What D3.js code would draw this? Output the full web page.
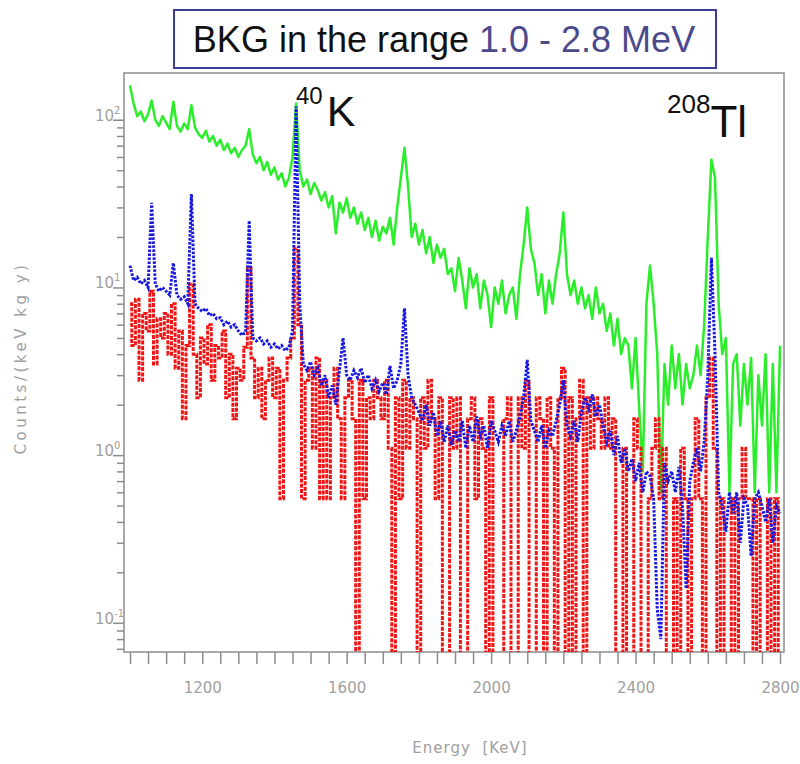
<!DOCTYPE html>
<html><head><meta charset="utf-8">
<script src="https://cdn.jsdelivr.net/npm/d3@7"></script>
<style>body{margin:0;background:#fff}</style>
</head><body>
<svg id="c" width="800" height="764"></svg>
<script>
// ---- data (counts/(keV kg y)), 10 keV bins starting at 1000 keV ----
const energyStart = 1000, energyEnd = 2800, energyStep = 10;
const green = [
160,125,105,112,98,108,130,100,92,105,
96,88,128,92,85,95,88,122,90,82,
78,86,74,80,70,76,66,72,63,68,
60,66,70,88,62,55,60,50,56,47,
52,44,48,40,45,60,125,50,40,44,
36,42,38,33,37,30,35,21,32,28,
34,26,30,24,28,22,26,20,25,19,
23,21,26,18,30,45,68,40,20,24,
18,22,16,20,14,18,15,17,12,13,
9.5,15,11,7.5,13,10,12,7.5,11,9,
5.8,10,8,11,7,9,10,6.5,12,18,
30,17,14,9,12,7,11,8,12,16,
28,12,9,11,8,10,7.5,9,6.5,10,
7,8,5.5,7,4.5,6.5,4,5,4.5,2.5,
5,1.9,0.8,8,13.5,8,4,0.6,3.5,2,
4.5,2.5,4,2,3.5,2.5,3,4.5,3,6,
20,58,45,8,4,5,0.6,3.5,4,1.5,
3.5,2,3.8,0.6,3,1.5,4,0.6,3.5,0.6,
4.5];
const blue = [
13.5,11,11.5,10.5,11,10,32,10.5,9.5,10,
9.5,9,14,9,8.5,8.8,8,36,8,7.5,
7.2,7.5,6.8,7,6.5,6.6,6,6.3,5.8,6,
5.5,5.2,5.4,25,5,4.8,5,4.6,4.8,4.4,
4.6,4.3,4.5,4.2,4.4,5.5,120,8,3.5,3.2,
3.6,3,3.3,2.6,3,2.2,2.6,2,3.2,5,
3,2.8,3.2,2.9,3.3,2.7,3,2.5,2.8,2.4,
2.7,2.3,3.4,2.5,2.8,3.5,7.5,3,2.2,2,
1.8,1.6,2,1.5,1.8,1.3,1.6,1.2,1.5,1.15,
1.4,1.2,1.6,1.1,1.5,1.2,1.7,1.3,1.5,1.1,
1.6,1.4,1.2,1.5,1.3,1.6,1.2,1.4,1.7,2.2,
3.7,1.6,1.4,1.2,1.5,1.1,1.4,1.3,1.6,2,
2.8,1.5,1.3,1.6,1.2,1.8,2.2,1.9,2.3,1.7,
2,1.5,1.2,1.4,1,1.3,0.9,1.1,0.8,0.95,
0.7,0.9,0.6,0.8,0.75,0.55,0.12,0.08,0.9,0.7,
0.8,0.6,0.85,0.5,0.16,0.7,0.9,1.1,0.8,1.2,
3,15,4,0.6,0.5,0.35,0.6,0.45,0.6,0.3,
0.55,0.5,0.25,0.55,0.6,0.5,0.4,0.55,0.3,0.5,
0.45];
const red = [
8,4.5,8.5,2.8,7,5.5,9.5,3.5,6.5,5,
7,4,8,3.3,5.5,1.65,4.5,10.5,4,2.2,
5,3.5,6,2.8,4.5,3.8,5.5,2.2,4,1.65,
3.3,2.8,4.4,13,3.8,2.2,3.3,1.65,2.8,3.8,
2.2,3.3,0.55,2.8,3.8,5,17,6,0.55,2.8,
3.3,1.1,3.8,0.55,2.8,0.55,2.2,3.3,1.65,0.55,
2.2,2.8,1.65,0,2.8,0.55,2.2,1.65,2.8,2.2,
1.65,2.8,1.1,0,2.2,0.55,2.8,1.1,2.2,1.65,
0,2.2,1.1,2.8,1.65,0.55,2.2,0,0,2.2,
1.1,2.2,0,0,1.65,2.2,0.55,1.65,1.1,0,
2.2,0,0,0,1.65,2.2,0,0,2.2,1.1,
2.8,0,0,2.2,1.65,0,2.2,1.1,0,2.2,
3.3,0,2.2,0,1.65,2.8,0,2.2,1.1,2.2,
1.65,1.1,2.2,1.1,1.65,0,0,1.1,0,0,
1.65,1.1,0,0,0.55,1.1,1.65,0.55,1.1,0,
0,0.55,0,1.1,0.55,0,0.55,1.65,0.55,0,
2.2,3.8,1.1,0,0.55,0,0,0.55,0,0.55,
1.1,0.55,0.55,0,0.55,0,0,0.55,0,0.55,
0];
const xTickLabels = [1200,1600,2000,2400,2800];
const yDecades = [0.1,1,10,100];
const yExponents = ["-1","0","1","2"];
const titleBlack = "BKG in the range ";
const titleBlue = "1.0 - 2.8 MeV";

// ---- layout ----
const svg = d3.select("#c");
const L = 124, R = 784, T = 73, B = 652;
const energies = d3.range(energyStart, energyEnd + 1, energyStep);
const x = d3.scaleLinear().domain([983.4, 2811]).range([L, R]);
const y = d3.scaleLog().domain([0.067, 190]).range([B, T]);

svg.append("defs").append("clipPath").attr("id","clip")
  .append("rect").attr("x",L).attr("y",T).attr("width",R-L).attr("height",B-T);

// frame
svg.append("rect").attr("x",L).attr("y",T).attr("width",R-L).attr("height",B-T)
  .attr("fill","none").attr("stroke","#8c8c8c").attr("stroke-width",1.5);

// y axis ticks
const minor = [];
[0.01,0.1,1,10,100].forEach(d => { for (let k=2;k<=9;k++){ const v=d*k; if (v>=0.067 && v<=190) minor.push(v);} });
const yMinor = svg.append("g").attr("transform",`translate(${L},0)`)
  .call(d3.axisLeft(y).tickValues(minor).tickSize(7).tickFormat(""));
const yMajor = svg.append("g").attr("transform",`translate(${L},0)`)
  .call(d3.axisLeft(y).tickValues(yDecades).tickSize(11).tickFormat(""));
[yMinor,yMajor].forEach(g => { g.select(".domain").remove(); g.selectAll("line").attr("stroke","#8c8c8c").attr("stroke-width",1.5); });

// y labels 10^n
yDecades.forEach((d,i) => {
  const t = svg.append("text").attr("x", 95).attr("y", y(d) + 1)
    .attr("font-family","DejaVu Sans").attr("font-size",15).attr("fill","#a0a0a0");
  t.append("tspan").text("10");
  t.append("tspan").attr("dy",-7).attr("font-size",10).text(yExponents[i]);
});

// x axis ticks
const xg = svg.append("g").attr("transform",`translate(0,${B})`)
  .call(d3.axisBottom(x).tickValues(d3.range(1000, 2801, 50)).tickSize(12)
    .tickFormat(d => xTickLabels.includes(d) ? d : "").tickPadding(18));
xg.select(".domain").remove();
xg.selectAll("line").attr("stroke","#8c8c8c").attr("stroke-width",1.5);
xg.selectAll("text").attr("font-family","DejaVu Sans").attr("font-size",15).attr("fill","#a0a0a0");

// axis titles
svg.append("text").attr("x",470).attr("y",753).attr("text-anchor","middle")
  .attr("font-family","DejaVu Sans").attr("font-size",15).attr("fill","#a0a0a0")
  .attr("letter-spacing",1).style("white-space","pre").text("Energy  [KeV]");
svg.append("text").attr("transform","translate(26,358) rotate(-90)").attr("text-anchor","middle")
  .attr("font-family","DejaVu Sans").attr("font-size",15).attr("fill","#a0a0a0")
  .attr("letter-spacing",3.5).text("Counts/(keV kg y)");

// series
const plot = svg.append("g").attr("clip-path","url(#clip)");
const lineLin = d3.line()
  .x((d,i) => x(energies[i])).y(d => y(Math.max(d, 0.03)));
const lineStep = d3.line().curve(d3.curveStep)
  .x((d,i) => x(energies[i])).y(d => y(Math.max(d, 0.03)));
plot.append("path").datum(green).attr("d",lineLin).attr("fill","none")
  .attr("stroke","#2aee2a").attr("stroke-width",2.5).attr("stroke-linejoin","round");
plot.append("path").datum(red).attr("d",lineStep).attr("fill","none")
  .attr("stroke","#f01414").attr("stroke-width",3).attr("stroke-dasharray","4,1.3");
plot.append("path").datum(blue).attr("d",lineLin).attr("fill","none")
  .attr("stroke","#1818e0").attr("stroke-width",3).attr("stroke-dasharray","2.5,1.5");

// peak labels
const k = svg.append("text").attr("x",296).attr("y",126).attr("font-family","Liberation Sans, Arial").attr("fill","#111");
k.append("tspan").attr("font-size",24).attr("dy",-22).text("40");
k.append("tspan").attr("font-size",43).attr("dx",4).attr("dy",22).text("K");
const tl = svg.append("text").attr("x",667).attr("y",137).attr("font-family","Liberation Sans, Arial").attr("fill","#111");
tl.append("tspan").attr("font-size",26).attr("dy",-24).text("208");
tl.append("tspan").attr("font-size",44).attr("dy",24).text("Tl");

// title box
svg.append("rect").attr("x",174).attr("y",10).attr("width",542).attr("height",58)
  .attr("fill","#fff").attr("stroke","#3c3c9a").attr("stroke-width",2);
const tt = svg.append("text").attr("x",444).attr("y",52).attr("text-anchor","middle")
  .attr("font-family","Liberation Sans, Arial").attr("font-size",36).style("white-space","pre");
tt.append("tspan").attr("fill","#111").text(titleBlack);
tt.append("tspan").attr("fill","#4a4a8c").text(titleBlue);
</script>
</body></html>
